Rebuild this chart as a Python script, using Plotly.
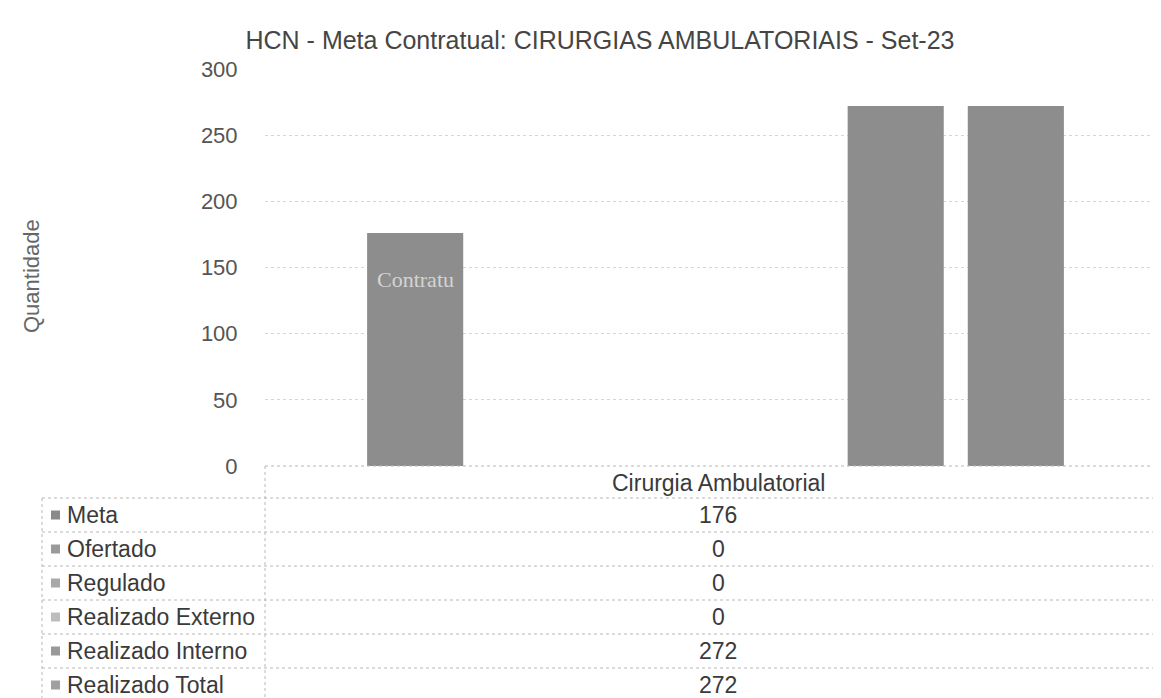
import plotly.graph_objects as go

# ---- data ----
categories = ["Cirurgia Ambulatorial"]
series_names = ["Meta", "Ofertado", "Regulado", "Realizado Externo", "Realizado Interno", "Realizado Total"]
series_values = [176, 0, 0, 0, 272, 272]
key_colors = ["#8a8a8a", "#9a9a9a", "#a8a8a8", "#bdbdbd", "#999999", "#a0a0a0"]
y_tick_vals = [0, 50, 100, 150, 200, 250, 300]
title_text = "HCN - Meta Contratual: CIRURGIAS AMBULATORIAIS - Set-23"
y_title = "Quantidade"
bar_overlay_text = "Contratu"

FONT = "Liberation Sans, Arial, sans-serif"
W, H = 1161, 698
L, R, T, B = 257, 3, 61, 240
PW = W - L - R
PH = H - T - B


def px_x(px):
    return (px - L) / PW


def px_y(py):
    return (H - B - py) / PH


fig = go.Figure()
for name, val in zip(series_names, series_values):
    fig.add_trace(go.Bar(
        x=categories, y=[val], name=name,
        marker=dict(color="#8d8d8d", line=dict(width=0)),
        showlegend=False,
    ))

fig.update_layout(
    width=W, height=H,
    margin=dict(l=L, r=R, t=T, b=B),
    paper_bgcolor="white", plot_bgcolor="white",
    barmode="group", bargap=0.2, bargroupgap=0.2,
    font=dict(family=FONT, color="#404040"),
    title=dict(text=title_text, x=592 / W, xanchor="center", y=1 - 32 / H, yanchor="middle",
               font=dict(size=25, color="#454545", family=FONT)),
    xaxis=dict(showticklabels=False, showgrid=False, zeroline=False, showline=False),
    yaxis=dict(range=[0, 300], tickvals=y_tick_vals, showgrid=True, gridcolor="#d6d6d6",
               griddash="dot", gridwidth=1, zeroline=False, showline=False,
               ticks="outside", ticklen=22, tickcolor="rgba(0,0,0,0)",
               tickfont=dict(size=22, color="#555555", family=FONT)),
)

shapes = []
line_style = dict(color="#b8b8b8", width=1, dash="dot")
shapes.append(dict(type="line", xref="paper", yref="paper", x0=px_x(257), x1=px_x(1158),
                   y0=px_y(458), y1=px_y(458), line=line_style))
header_bottom = 490
row_h = 34
for i in range(len(series_names) + 1):
    yy = header_bottom + i * row_h
    shapes.append(dict(type="line", xref="paper", yref="paper", x0=px_x(34), x1=px_x(1158),
                       y0=px_y(yy), y1=px_y(yy), line=line_style))
table_bottom = header_bottom + len(series_names) * row_h
shapes.append(dict(type="line", xref="paper", yref="paper", x0=px_x(34), x1=px_x(34),
                   y0=px_y(header_bottom), y1=px_y(table_bottom), line=line_style))
for xx in (257, 1158):
    shapes.append(dict(type="line", xref="paper", yref="paper", x0=px_x(xx), x1=px_x(xx),
                       y0=px_y(458), y1=px_y(table_bottom), line=line_style))

annotations = []
annotations.append(dict(text=categories[0], xref="paper", yref="paper", x=px_x(710), y=px_y(475),
                        xanchor="center", yanchor="middle", showarrow=False,
                        font=dict(size=23, color="#3a3a3a", family=FONT)))
for i, (name, val, col) in enumerate(zip(series_names, series_values, key_colors)):
    cy = header_bottom + i * row_h + row_h / 2
    shapes.append(dict(type="rect", xref="paper", yref="paper", x0=px_x(43), x1=px_x(52),
                       y0=px_y(cy + 4.5), y1=px_y(cy - 4.5), fillcolor=col, line=dict(width=0)))
    annotations.append(dict(text=name, xref="paper", yref="paper", x=px_x(57), y=px_y(cy),
                            xanchor="left", yanchor="middle", showarrow=False,
                            font=dict(size=23, color="#3a3a3a", family=FONT)))
    annotations.append(dict(text=str(val), xref="paper", yref="paper", x=px_x(710), y=px_y(cy),
                            xanchor="center", yanchor="middle", showarrow=False,
                            font=dict(size=23, color="#3a3a3a", family=FONT)))

annotations.append(dict(text=y_title, xref="paper", yref="paper", x=px_x(23), y=px_y(268),
                        xanchor="center", yanchor="middle", textangle=-90, showarrow=False,
                        font=dict(size=22, color="#666666", family=FONT)))

# faint bleed-through text visible on the first bar
annotations.append(dict(text=bar_overlay_text, x=categories[0], y=series_values[0] * 0.8,
                        xref="x", yref="y", xshift=-300, xanchor="center", yanchor="middle",
                        showarrow=False, font=dict(size=22, color="#d4d4d4", family="Liberation Serif, serif")))

fig.update_layout(shapes=shapes, annotations=annotations)
fig.write_html("out.html")
